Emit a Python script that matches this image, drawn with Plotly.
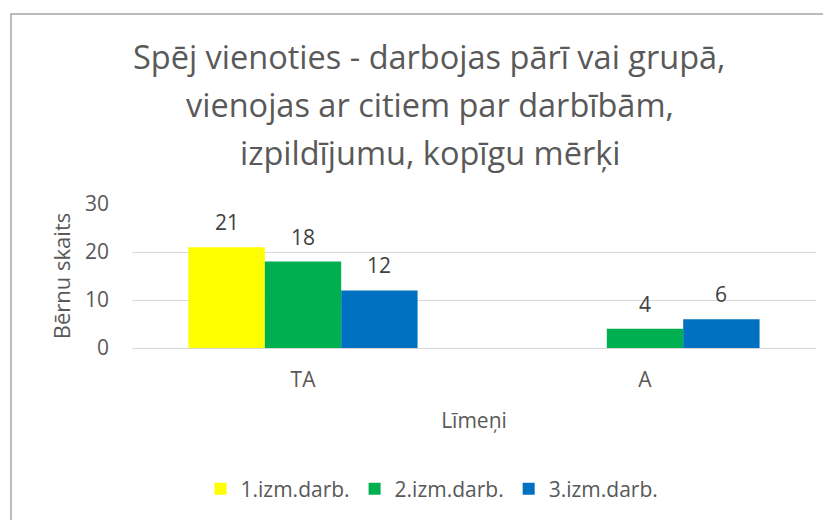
import plotly.graph_objects as go

categories = ["TA", "A"]
series_names = ["1.izm.darb.", "2.izm.darb.", "3.izm.darb."]
s1 = [21, None]
s2 = [18, 4]
s3 = [12, 6]
colors = ["#FFFF00", "#00B050", "#0070C0"]
y_ticks = [0, 10, 20, 30]
title_lines = [
    "Spēj vienoties - darbojas pārī vai grupā,",
    "vienojas ar citiem par darbībām,",
    "izpildījumu, kopīgu mērķi",
]

FONT = "Open Sans"
GRAY = "#595959"
BARGAP = 0.33
PLOT_W = 684
SMALL = 21

fig = go.Figure()
all_series = [s1, s2, s3]
for name, vals, col in zip(series_names, all_series, colors):
    fig.add_trace(go.Bar(
        x=categories, y=vals, name=name, marker_color=col,
        marker_line_width=0,
    ))

# data labels above bars
bar_px = PLOT_W / len(categories) * (1 - BARGAP) / len(all_series)
annotations = []
for i, vals in enumerate(all_series):
    for c, v in zip(categories, vals):
        if v is None:
            continue
        annotations.append(dict(
            x=c, y=v, xref="x", yref="y", text=str(v), showarrow=False,
            xshift=(i - (len(all_series) - 1) / 2) * bar_px,
            yshift=25, yanchor="middle",
            font=dict(family=FONT, size=SMALL, color="#404040"),
        ))

# title lines
for ty, line in zip([2.024, 1.688, 1.355], title_lines):
    annotations.append(dict(
        x=0.435, y=ty, xref="paper", yref="paper", text=line, showarrow=False,
        xanchor="center", yanchor="middle",
        font=dict(family=FONT, size=32.5, color=GRAY),
    ))

fig.update_layout(
    width=831, height=520,
    margin=dict(l=124, r=23, t=196, b=180),
    paper_bgcolor="white", plot_bgcolor="white",
    barmode="group", bargap=BARGAP, bargroupgap=0,
    xaxis=dict(
        title=dict(text="Līmeņi", font=dict(family=FONT, size=SMALL, color=GRAY), standoff=21),
        tickfont=dict(family=FONT, size=SMALL, color=GRAY),
        showline=False, ticks="", ticklabelstandoff=17,
    ),
    yaxis=dict(
        title=dict(text="Bērnu skaits", font=dict(family=FONT, size=22, color=GRAY), standoff=8),
        range=[0, 30], tickvals=y_ticks,
        tickfont=dict(family=FONT, size=SMALL, color=GRAY),
        showgrid=True, gridcolor="#D9D9D9", gridwidth=1,
        zeroline=True, zerolinecolor="#D9D9D9", zerolinewidth=1,
        ticks="", ticklabelstandoff=22,
    ),
    legend=dict(
        orientation="h", x=0.4386, xanchor="center", y=-0.979, yanchor="middle",
        font=dict(family=FONT, size=SMALL, color=GRAY),
        traceorder="normal", itemwidth=30,
    ),
    annotations=annotations,
    shapes=[
        dict(type="rect", xref="paper", yref="paper",
             x0=-0.1769, x1=1.06, y0=-1.3, y1=2.319,
             line=dict(color="#A6A6A6", width=1.5), fillcolor="rgba(0,0,0,0)", layer="below"),
    ],
)

fig.write_html("out.html")
